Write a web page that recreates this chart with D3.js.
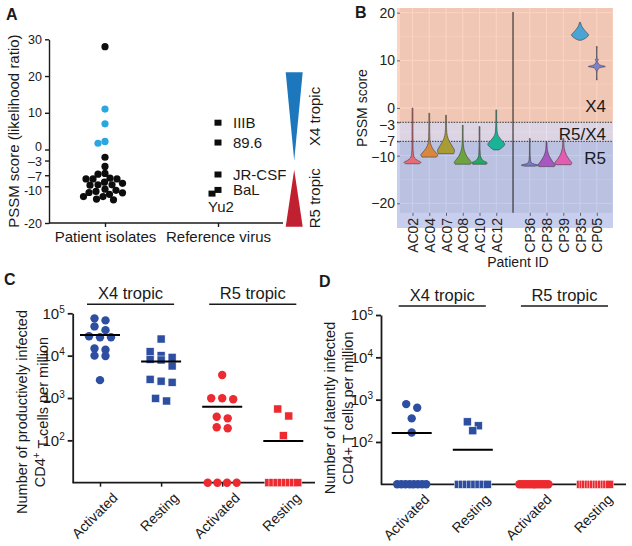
<!DOCTYPE html>
<html>
<head>
<meta charset="utf-8">
<script src="https://cdn.jsdelivr.net/npm/d3@7"></script>
<style>
  body { margin: 0; background: #fff; }
  svg { display: block; }
  text { font-family: "Liberation Sans", Arial, Helvetica, sans-serif; }
</style>
</head>
<body>
<svg id="fig" width="632" height="546"></svg>
<script>
// ---------- data ----------
// A: PSSM scores
const aCategories = ['Patient isolates', 'Reference virus']
const isolateScores = [28, -2.1, -4.6, -6.5, -6.7, -7.8, -8.0, -8.0, -8.0, -8.9, -9.2, -9.6, -9.6, -9.7,
  -10.8, -11.1, -11.4, -11.7, -11.8, -12.2, -12.8, -12.8, -13.5, -13.7]
const isolateScoresX4 = [11, 7, 2.2, 1.7]
const refViruses = ['IIIB', '89.6', 'JR-CSF', 'BaL', 'Yu2']
const refScores = [7.3, 1.9, -6.8, -11.0, -12.0]
const aTicks = [30, 20, 10, 0, -3, -7, -10, -20]
const tropismLabels = ['X4 tropic', 'R5 tropic']
const tropismWide = [21, -21]
const tropismTip = [-3, -5.5]

// B: per-patient violin profiles, [score, relative density]
const patients = ['AC02', 'AC04', 'AC07', 'AC08', 'AC10', 'AC12', 'CP36', 'CP38', 'CP39', 'CP35', 'CP05']
const violinProfiles = [
  [[0, 0.05], [-6, 0.06], [-9.5, 0.1], [-10.5, 0.25], [-11, 0.6], [-11.4, 1], [-11.7, 0.8]],
  [[-1.1, 0.05], [-6, 0.07], [-7.5, 0.15], [-8.5, 0.4], [-9.3, 0.75], [-9.9, 1], [-10.3, 0.85]],
  [[-1.5, 0.05], [-4.5, 0.07], [-5.8, 0.15], [-7, 0.4], [-8.2, 0.8], [-8.9, 1], [-9.6, 0.9]],
  [[-3.6, 0.05], [-7.5, 0.07], [-9, 0.2], [-10.2, 0.5], [-11, 0.85], [-11.4, 1], [-11.8, 0.9]],
  [[-3.9, 0.05], [-9, 0.07], [-10.3, 0.15], [-11, 0.4], [-11.5, 0.9], [-11.8, 0.8]],
  [[-0.4, 0.05], [-4, 0.07], [-5.7, 0.2], [-6.8, 0.65], [-7.6, 1], [-8.3, 0.7], [-8.8, 0.3]],
  [[-6.4, 0.05], [-10.5, 0.07], [-11.5, 0.2], [-12, 1], [-12.2, 0.6]],
  [[-7.1, 0.05], [-9, 0.12], [-10.2, 0.35], [-11.2, 0.7], [-12, 1], [-12.3, 0.9]],
  [[-6.4, 0.05], [-8.5, 0.12], [-9.8, 0.35], [-10.8, 0.7], [-11.5, 1], [-11.9, 0.9]],
  [[18, 0.05], [17, 0.25], [16, 0.7], [15.3, 1], [14.6, 0.6], [14.2, 0.1]],
  [[12.9, 0.05], [10.4, 0.06], [10.1, 0.2], [9.8, 0.07], [9.1, 0.3], [8.7, 1], [8.4, 0.3], [7.8, 0.06], [5.9, 0.05]]
]
const bTicks = [20, 10, 0, -3, -7, -10, -20]
const pssmCutoffs = [-3, -7]
const zoneLabels = ['X4', 'R5/X4', 'R5']

// C, D: infected cells per million (0 = none detected)
const cellGroups = ['Activated', 'Resting', 'Activated', 'Resting']
const prodX4Act = [76000, 68000, 49000, 40000, 28600, 27100, 27100, 14800, 13800, 10000, 9800, 2640]
const prodX4Rest = [24700, 12400, 10000, 9100, 8200, 7900, 5700, 2760, 2500, 2350, 980, 850]
const prodR5Act = [3490, 985, 985, 933, 361, 331, 204, 193, 0, 0, 0, 0]
const prodR5Rest = [550, 376, 129, 0, 0, 0, 0, 0, 0, 0, 0]
const latX4Act = [784, 641, 361, 168, 0, 0, 0, 0, 0, 0, 0, 0]
const latX4Rest = [299, 241, 184, 0, 0, 0, 0, 0, 0, 0, 0]
const latR5Act = [0, 0, 0, 0, 0, 0, 0, 0, 0, 0, 0, 0]
const latR5Rest = [0, 0, 0, 0, 0, 0, 0, 0, 0, 0, 0, 0]
const logTicks = [100, 1000, 10000, 100000]

// ---------- helpers ----------
const svg = d3.select('#fig')
const ink = '#1a1a1a'

function styleAxis(g, size, width) {
  g.attr('font-family', null).attr('font-size', null)
  g.selectAll('text').attr('font-size', size).attr('fill', ink)
  g.selectAll('line, path').attr('stroke', ink).attr('stroke-width', width)
}

// simple beeswarm, negative side tried first
function swarm(vals, y, cx, minDist) {
  const placed = []
  vals.map((v, i) => ({ v, i, y: y(v) }))
    .sort((a, b) => a.y - b.y)
    .forEach(p => {
      for (let k = 0; k < 400; k++) {
        const off = k === 0 ? 0 : (k % 2 ? -1 : 1) * Math.ceil(k / 2) * 0.5
        const x = cx + off
        if (placed.every(q => (q.x - x) ** 2 + (q.y - p.y) ** 2 >= minDist * minDist)) {
          p.x = x
          break
        }
      }
      placed.push(p)
    })
  return placed
}

// Prism-like rows: points close in y are spread side by side
function rows(vals, y, cx, gap, maxSpan, tol) {
  const pts = vals.map(v => ({ v, y: y(Math.max(v, y.domain()[0])) })).sort((a, b) => a.y - b.y)
  const out = []
  let row = []
  const flush = r => {
    const n = r.length
    const span = Math.min((n - 1) * gap, maxSpan)
    r.forEach((p, i) => { p.x = cx + (n > 1 ? -span / 2 + i * span / (n - 1) : 0); out.push(p) })
  }
  pts.forEach(p => {
    if (row.length && p.y - row[0].y > tol) { flush(row); row = [] }
    row.push(p)
  })
  flush(row)
  return out
}

function letter(t, x, y) {
  svg.append('text').attr('x', x).attr('y', y).attr('font-size', 16)
    .attr('font-weight', 'bold').attr('fill', ink).text(t)
}

// ---------- panel A ----------
const gA = svg.append('g')
const yA = d3.scaleLinear().domain([-20, 30]).range([223, 39.3])
const xA = d3.scalePoint().domain(aCategories).range([105, 218])
letter('A', 6, 20)

const fmtA = d => (d === -3 || d === -7) ? '\u2013' + Math.abs(d) : String(d)
// crowded labels near zero are pushed apart a little
const nudgeA = { '0': -3, '-3': 0.5, '-7': 1, '-10': 4 }
gA.append('g').attr('transform', 'translate(49,0)')
  .call(d3.axisLeft(yA).tickValues(aTicks).tickSize(4).tickSizeOuter(0).tickPadding(3).tickFormat(fmtA))
  .call(styleAxis, 12.5, 1.4)
  .call(g => g.selectAll('.tick text').attr('y', d => nudgeA[d] || 0))
gA.append('line').attr('x1', 49).attr('x2', 283).attr('y1', yA(-20)).attr('y2', yA(-20))
  .attr('stroke', ink).attr('stroke-width', 1.4)
gA.append('g').attr('transform', `translate(0,${yA(-20)})`)
  .call(d3.axisBottom(xA).tickSize(4).tickPadding(4))
  .call(styleAxis, 15, 1.4)
  .call(g => g.select('.domain').remove())

gA.append('text').attr('transform', `translate(19,${(yA(30) + yA(-20)) / 2}) rotate(-90)`)
  .attr('text-anchor', 'middle').attr('font-size', 15).attr('fill', ink)
  .text('PSSM score (likelihood ratio)')

const isoPts = swarm(isolateScores.concat(isolateScoresX4), yA, xA('Patient isolates'), 6.8)
gA.selectAll('circle.iso').data(isoPts).join('circle').attr('class', 'iso')
  .attr('cx', d => d.x).attr('cy', d => d.y).attr('r', 3.6)
  .attr('fill', d => d.i >= isolateScores.length ? '#2aa7e1' : '#0d0d0d')

const refPts = swarm(refScores, yA, xA('Reference virus'), 7)
gA.selectAll('rect.ref').data(refPts).join('rect').attr('class', 'ref')
  .attr('x', d => d.x - 3.5).attr('y', d => d.y - 3).attr('width', 7).attr('height', 6)
  .attr('fill', '#0d0d0d')
gA.selectAll('text.ref').data(refPts).join('text').attr('class', 'ref')
  .attr('x', d => refViruses[d.i] === 'Yu2' ? d.x - 4 : d.x + 15)
  .attr('y', d => refViruses[d.i] === 'Yu2' ? d.y + 18 : d.y + 5)
  .attr('font-size', 15).attr('fill', ink)
  .text(d => refViruses[d.i])

const triFill = ['#1c77bd', '#c0202f']
tropismLabels.forEach((lab, i) => {
  const yw = yA(tropismWide[i]), yt = yA(tropismTip[i])
  gA.append('path').attr('d', `M285.7,${yw}L302.7,${yw}L294.2,${yt}Z`).attr('fill', triFill[i])
  gA.append('text').attr('transform', `translate(320,${(yw + yt) / 2}) rotate(-90)`)
    .attr('text-anchor', 'middle').attr('font-size', 15).attr('fill', ink).text(lab)
})

// ---------- panel B ----------
const gB = svg.append('g')
const slots = patients.slice(0, 6).concat(['gap'], patients.slice(6))
const xB = d3.scalePoint().domain(slots).range([412.5, 596.8])
const yB = d3.scaleLinear().domain([-20, 20]).range([203.3, 12.7])
const wB = d3.scaleLinear().domain([0, 1]).range([0, 8.5])
letter('B', 355, 18)

const panel = { x0: 400, x1: 612.5, y0: yB(21), y1: yB(-22) }
gB.append('rect').attr('x', panel.x0).attr('y', panel.y0)
  .attr('width', panel.x1 - panel.x0).attr('height', panel.y1 - panel.y0).attr('fill', '#ebebeb')
const grid = gB.append('g').attr('stroke', '#fff')
;[15, 5, -5, -15].forEach(v => grid.append('line').attr('x1', panel.x0).attr('x2', panel.x1)
  .attr('y1', yB(v)).attr('y2', yB(v)).attr('stroke-width', 0.5))
;[20, 10, 0, -10, -20].forEach(v => grid.append('line').attr('x1', panel.x0).attr('x2', panel.x1)
  .attr('y1', yB(v)).attr('y2', yB(v)).attr('stroke-width', 1))
patients.forEach(p => grid.append('line').attr('x1', xB(p)).attr('x2', xB(p))
  .attr('y1', panel.y0).attr('y2', panel.y1).attr('stroke-width', 1))

// tropism zones over the panel
const zoneFill = ['rgba(250,140,95,0.38)', 'rgba(200,180,215,0.42)', 'rgba(95,110,205,0.34)']
const zoneEdges = [8, yB(pssmCutoffs[0]), yB(pssmCutoffs[1]), 228]
zoneFill.forEach((f, i) => gB.append('rect').attr('x', 397).attr('width', 216)
  .attr('y', zoneEdges[i]).attr('height', zoneEdges[i + 1] - zoneEdges[i]).attr('fill', f))
pssmCutoffs.forEach(c => gB.append('line').attr('x1', 397).attr('x2', 613)
  .attr('y1', yB(c)).attr('y2', yB(c)).attr('stroke', '#333').attr('stroke-width', 1)
  .attr('stroke-dasharray', '1.5,1.2'))

gB.append('line').attr('x1', xB('gap')).attr('x2', xB('gap')).attr('y1', 12).attr('y2', panel.y1)
  .attr('stroke', ink).attr('stroke-width', 1)

const violinColors = ['#ea6b78', '#d8883c', '#a99b36', '#6da43f', '#22a962', '#19b497',
  '#7b79c8', '#a756c2', '#e25db2', '#4ba4d6', '#7d82cd']
violinProfiles.forEach((prof, i) => {
  const cx = xB(patients[i])
  const area = d3.area().curve(d3.curveCatmullRom)
    .y(d => yB(d[0])).x0(d => cx - wB(d[1])).x1(d => cx + wB(d[1]))
  gB.append('path').attr('d', area(prof)).attr('fill', violinColors[i])
    .attr('stroke', '#3a3a3a').attr('stroke-width', 0.6)
})

const nudgeB = { '-3': 2.5, '-10': 1 }
gB.append('g').attr('transform', `translate(${panel.x0},0)`)
  .call(d3.axisLeft(yB).tickValues(bTicks).tickSize(3).tickPadding(2).tickFormat(d3.format('')))
  .call(g => g.select('.domain').remove())
  .call(styleAxis, 14, 0.6)
  .call(g => g.selectAll('.tick text').attr('fill', '#222').attr('y', d => nudgeB[d] || 0))
gB.append('g').attr('transform', `translate(0,${panel.y1})`)
  .call(d3.axisBottom(xB).tickValues(patients).tickSize(3))
  .call(g => g.select('.domain').remove())
  .call(styleAxis, 14, 0.6)
  .call(g => g.selectAll('text').attr('transform', 'rotate(-90)').attr('text-anchor', 'end')
    .attr('x', -5).attr('y', 0).attr('dy', '0.36em').attr('fill', '#222'))

gB.append('text').attr('transform', `translate(367,${(yB(20) + yB(-20)) / 2}) rotate(-90)`)
  .attr('text-anchor', 'middle').attr('font-size', 14).attr('fill', ink).text('PSSM score')
gB.append('text').attr('x', 518).attr('y', 267).attr('text-anchor', 'middle')
  .attr('font-size', 14).attr('fill', ink).text('Patient ID')

const zoneBase = [yB(pssmCutoffs[0]) - 10, yB(pssmCutoffs[1]) - 1, yB(pssmCutoffs[1]) + 23]
zoneLabels.forEach((z, i) => gB.append('text').attr('x', 606).attr('y', zoneBase[i])
  .attr('text-anchor', 'end').attr('font-size', 17).attr('fill', '#1a1a1a').text(z))

// ---------- panels C and D ----------
const blue = '#2d4ea1', red = '#ec2a2f'
function dotPanel(cfg) {
  const g = svg.append('g')
  const y = d3.scaleLog().domain([10, 1e5]).range([cfg.bottom, cfg.top])
  const x = d3.scalePoint().domain(d3.range(cellGroups.length)).range([cfg.x0, cfg.x0 + 183.3])
  letter(cfg.letter, cfg.lx, cfg.ly)

  // tropism headers
  tropismLabels.forEach((lab, i) => {
    const xa = x(2 * i) - 13, xb = x(2 * i + 1) + 13, ly = cfg.top - 9
    g.append('line').attr('x1', xa).attr('x2', xb).attr('y1', ly).attr('y2', ly)
      .attr('stroke', ink).attr('stroke-width', 1.5)
    g.append('text').attr('x', (xa + xb) / 2).attr('y', ly - 5).attr('text-anchor', 'middle')
      .attr('font-size', 16.5).attr('fill', ink).text(lab)
  })

  g.append('g').attr('transform', `translate(${cfg.axisX},0)`)
    .call(d3.axisLeft(y).tickValues(logTicks).tickSize(5).tickSizeOuter(0).tickPadding(3))
    .call(styleAxis, 15, 1.8)
    .call(a => a.selectAll('.tick text').each(function (d) {
      const t = d3.select(this).text('')
      t.append('tspan').text('10')
      t.append('tspan').attr('dy', '-0.55em').attr('font-size', 10).text(Math.round(Math.log10(d)))
    }))
  g.append('line').attr('x1', cfg.axisX).attr('x2', cfg.axisRight)
    .attr('y1', cfg.bottom).attr('y2', cfg.bottom).attr('stroke', ink).attr('stroke-width', 1.8)
  g.append('g').attr('transform', `translate(0,${cfg.bottom})`)
    .call(d3.axisBottom(x).tickSize(4).tickFormat(i => cellGroups[i]))
    .call(a => a.select('.domain').remove())
    .call(styleAxis, 14, 1.5)
    .call(a => a.selectAll('text').attr('text-anchor', 'end').attr('x', 0).attr('y', 0).attr('dy', 0)
      .attr('transform', 'translate(18,16) rotate(-45)'))

  cfg.series.forEach((vals, i) => {
    const pts = rows(vals, y, x(i), 11, 29, 7.1)
    const col = i < 2 ? blue : red
    if (i % 2 === 0) {
      g.selectAll(null).data(pts).join('circle')
        .attr('cx', d => d.x).attr('cy', d => d.y).attr('r', 4.2).attr('fill', col)
    } else {
      g.selectAll(null).data(pts).join('rect')
        .attr('x', d => d.x - 4).attr('y', d => d.y - 4).attr('width', 8).attr('height', 8)
        .attr('fill', col).attr('stroke', '#fff').attr('stroke-width', 0.5)
    }
    const m = d3.mean(vals)
    if (m > 0) {
      g.append('line').attr('x1', x(i) - 20).attr('x2', x(i) + 20).attr('y1', y(m)).attr('y2', y(m))
        .attr('stroke', '#000').attr('stroke-width', 2)
    }
  })

  cfg.ylab.forEach((line, k) => {
    const t = g.append('text')
      .attr('transform', `translate(${cfg.labX + k * 18.3},${cfg.labY}) rotate(-90)`)
      .attr('text-anchor', 'middle').attr('font-size', 14.5).attr('fill', ink)
    line.forEach((part, j) => {
      if (j % 2) t.append('tspan').attr('dy', '-0.5em').attr('font-size', 10).text(part)
      else t.append('tspan').attr('dy', j ? '0.5em' : null).text(part)
    })
  })
}

dotPanel({
  letter: 'C', lx: 4, ly: 285,
  top: 313.3, bottom: 482.7, axisX: 72.7, axisRight: 315, x0: 100,
  series: [prodX4Act, prodX4Rest, prodR5Act, prodR5Rest],
  labX: 27, labY: 412,
  ylab: [['Number of productively infected'], ['CD4', '+', ' T cells per million']]
})
dotPanel({
  letter: 'D', lx: 319, ly: 287,
  top: 315, bottom: 484.3, axisX: 381, axisRight: 626, x0: 411.7,
  series: [latX4Act, latX4Rest, latR5Act, latR5Rest],
  labX: 335, labY: 408,
  ylab: [['Number of latently infected'], ['CD4+ T cells per million']]
})
</script>
</body>
</html>
